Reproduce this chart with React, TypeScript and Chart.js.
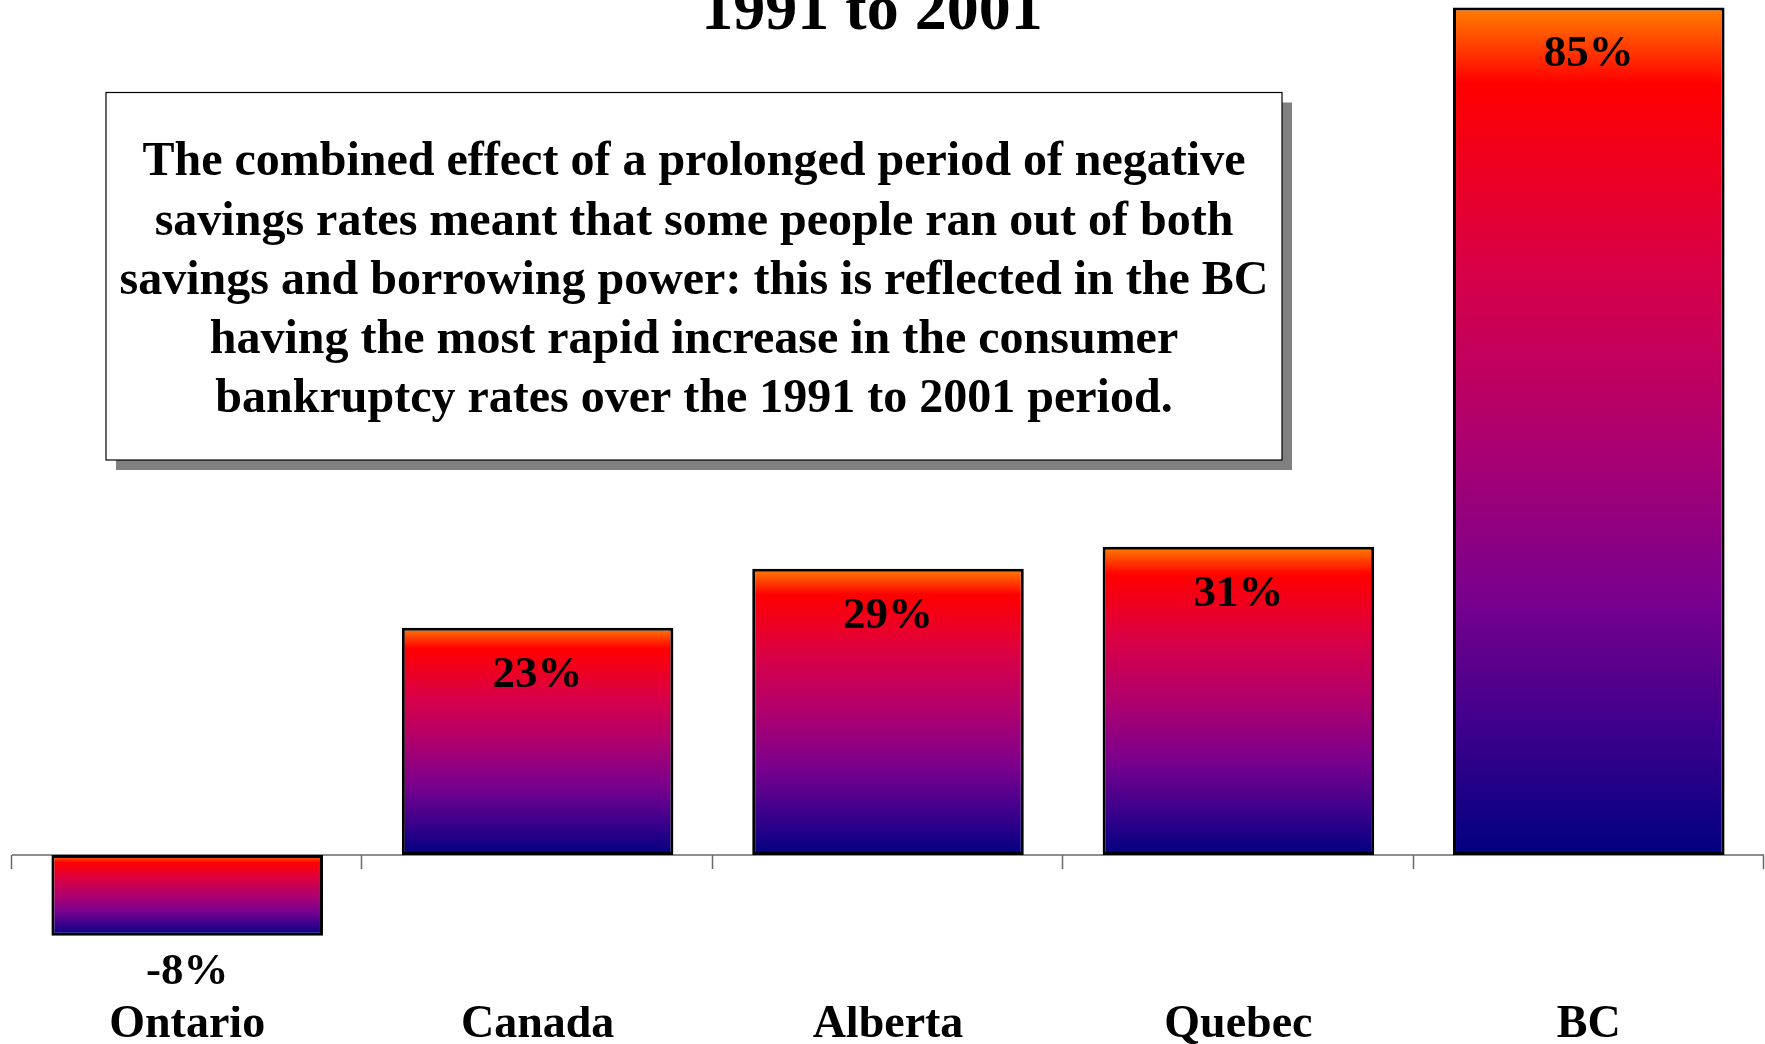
import { useEffect, useRef } from 'react';
import { Chart, registerables } from 'chart.js';

Chart.register(...registerables);

const categories = ['Ontario', 'Canada', 'Alberta', 'Quebec', 'BC'];
const changeValues = [-8.1, 22.8, 28.7, 30.9, 85];
const valueLabels = ['-8%', '23%', '29%', '31%', '85%'];
const titleText = '1991 to 2001';
const noteLines = [
  'The combined effect of a prolonged period of negative',
  'savings rates meant that some people ran out of both',
  'savings and borrowing power: this is reflected in the BC',
  'having the most rapid increase in the consumer',
  'bankruptcy rates over the 1991 to 2001 period.',
];
const Y_MIN = -15.15;
const Y_MAX = 85.75;

const FONT = '"Liberation Serif", "Times New Roman", Times, serif';

const gradientStops: [number, string][] = [
  [0, '#FF8000'],
  [0.09, '#FF0000'],
  [0.3, '#DA0045'],
  [0.5, '#B0006E'],
  [0.7, '#78008E'],
  [0.86, '#3A008C'],
  [1, '#000080'],
];

const axisPlugin = {
  id: 'zeroAxis',
  beforeDatasetsDraw(chart: any) {
    const { ctx } = chart;
    const xs = chart.scales.x;
    const y0 = chart.scales.y.getPixelForValue(0);
    const n = categories.length;
    ctx.save();
    ctx.strokeStyle = '#6a6a6a';
    ctx.lineWidth = 1.5;
    ctx.beginPath();
    ctx.moveTo(xs.left, y0);
    ctx.lineTo(xs.right, y0);
    for (let i = 0; i <= n; i++) {
      const x = Math.round(xs.left + (i * xs.width) / n) - 0.5;
      ctx.moveTo(x, y0);
      ctx.lineTo(x, y0 + 14);
    }
    ctx.stroke();
    ctx.restore();
  },
};

const labelsPlugin = {
  id: 'valueLabels',
  afterDatasetsDraw(chart: any) {
    const { ctx } = chart;
    const meta = chart.getDatasetMeta(0);
    ctx.save();
    ctx.fillStyle = '#000';
    ctx.font = `bold 45px ${FONT}`;
    ctx.textAlign = 'center';
    ctx.textBaseline = 'alphabetic';
    meta.data.forEach((el: any, i: number) => {
      const { x, y } = el.getProps(['x', 'y'], true);
      if (changeValues[i] >= 0) ctx.fillText(valueLabels[i], x, y + 59);
      else ctx.fillText(valueLabels[i], x, y + 48.5);
    });
    ctx.restore();
  },
};

const decorPlugin = {
  id: 'decor',
  afterDraw(chart: any) {
    const { ctx } = chart;
    ctx.save();
    // title (only the visible second line)
    ctx.fillStyle = '#000';
    ctx.font = `bold 64px ${FONT}`;
    ctx.textAlign = 'center';
    ctx.textBaseline = 'alphabetic';
    ctx.fillText(titleText, 872, 29);

    // note box
    const bx = 106, by = 92.5, bw = 1176, bh = 367.5;
    ctx.fillStyle = '#808080';
    ctx.fillRect(bx + 10, by + 10, bw, bh);
    ctx.fillStyle = '#fff';
    ctx.fillRect(bx, by, bw, bh);
    ctx.strokeStyle = '#000';
    ctx.lineWidth = 1.2;
    ctx.strokeRect(bx, by, bw, bh);

    ctx.fillStyle = '#000';
    ctx.font = `bold 48px ${FONT}`;
    ctx.textBaseline = 'middle';
    const cx = bx + bw / 2;
    const firstY = 163;
    const step = 59.1;
    noteLines.forEach((line, i) => {
      ctx.fillText(line, cx, firstY + i * step);
    });
    ctx.restore();
  },
};

export default function App() {
  const canvasRef = useRef<HTMLCanvasElement | null>(null);

  useEffect(() => {
    const canvas = canvasRef.current;
    if (!canvas) return;
    const chart = new Chart(canvas, {
      type: 'bar',
      data: {
        labels: categories,
        datasets: [
          {
            data: changeValues,
            backgroundColor: (c: any) => {
              const ch = c.chart;
              const ys = ch.scales?.y;
              if (!ch.chartArea || !ys || c.type !== 'data') return '#800080';
              const v = c.parsed ? c.parsed.y : changeValues[c.dataIndex];
              const p0 = ys.getPixelForValue(0);
              const p1 = ys.getPixelForValue(v);
              const top = Math.min(p0, p1);
              const bot = Math.max(p0, p1);
              const g = ch.ctx.createLinearGradient(0, top, 0, bot);
              gradientStops.forEach(([o, col]) => g.addColorStop(o, col));
              return g;
            },
            borderColor: '#000',
            borderWidth: 3,
            borderSkipped: false,
            barPercentage: 0.775,
            categoryPercentage: 1,
          },
        ],
      },
      options: {
        responsive: false,
        animation: false,
        devicePixelRatio: 1,
        layout: { padding: { left: 12, right: 1, top: 0, bottom: 0 } },
        plugins: {
          legend: { display: false },
          tooltip: { enabled: false },
          title: { display: false },
        },
        scales: {
          x: {
            grid: { display: false, drawTicks: false },
            border: { display: false },
            ticks: {
              color: '#000',
              padding: 0,
              font: { family: FONT, size: 46, weight: 'bold', lineHeight: 0.826 },
            },
          },
          y: {
            display: false,
            min: Y_MIN,
            max: Y_MAX,
          },
        },
      },
      plugins: [axisPlugin, labelsPlugin, decorPlugin],
    });
    return () => chart.destroy();
  }, []);

  return (
    <div style={{ position: 'fixed', left: 0, top: 0, width: 1765, height: 1044, background: '#fff' }}>
      <canvas ref={canvasRef} width={1765} height={1044} style={{ display: 'block', width: 1765, height: 1044 }} />
    </div>
  );
}
